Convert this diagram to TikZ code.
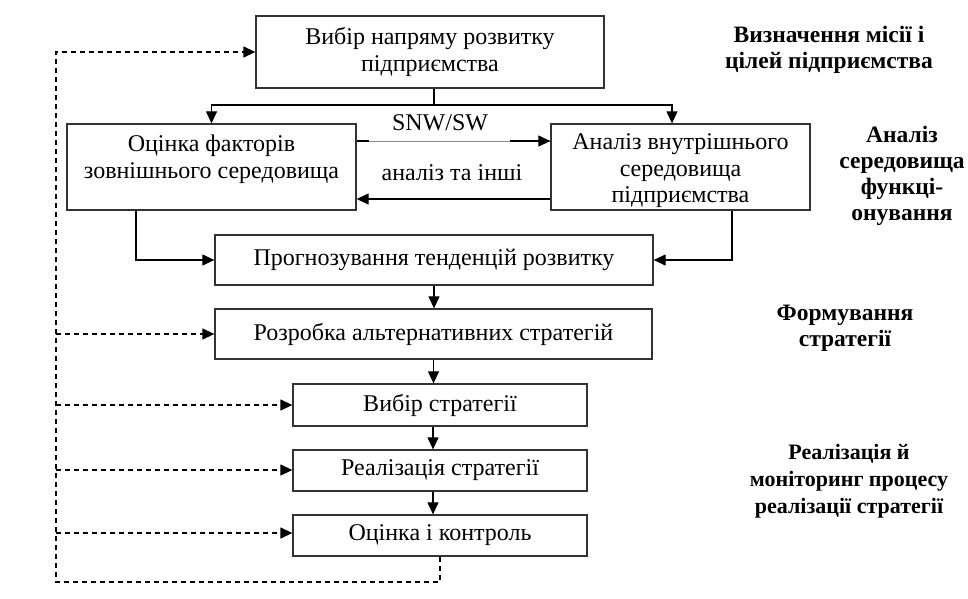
\documentclass[tikz,border=0pt]{standalone}
\usepackage{fontspec}
\setmainfont{Liberation Serif}
\usetikzlibrary{arrows.meta}
\begin{document}
\begin{tikzpicture}[x=1pt,y=-1pt,
  box/.style={draw=black!80,line width=1.3pt,inner sep=0pt,align=center,
    font=\fontsize{24}{26.5}\selectfont},
  txt/.style={inner sep=0pt,align=center,font=\fontsize{24}{26.5}\selectfont},
  side/.style={inner sep=0pt,align=center,font=\fontsize{23.5}{26}\selectfont\bfseries},
  sidesm/.style={inner sep=0pt,align=center,font=\fontsize{22}{27}\selectfont\bfseries},
  arr/.style={line width=1.2pt,-{Triangle[length=12pt,width=11pt]}},
  ln/.style={line width=1.2pt},
  dsh/.style={line width=1.3pt,dash pattern=on 5pt off 4pt},
  darr/.style={dsh,-{Triangle[length=12pt,width=11pt]}}]
\useasboundingbox (0,0) rectangle (968,598);
% boxes
\node[box,minimum width=348pt,minimum height=72pt] (top) at (430,52) {Вибір напряму розвитку\\підприємства};
\node[box,minimum width=289pt,minimum height=86pt] (ext) at (211.5,167) {};
\node[txt] (extT) at (211.5,159) {Оцінка факторів\\зовнішнього середовища};
\node[box,minimum width=259pt,minimum height=86pt] (int) at (680.5,167) {};
\node[txt] (intT) at (680.5,171) {Аналіз внутрішнього\\середовища\\підприємства};
\node[box,minimum width=438pt,minimum height=50pt] (prog) at (434,260) {Прогнозування тенденцій розвитку};
\node[box,minimum width=437pt,minimum height=50pt] (roz) at (433.5,334) {Розробка альтернативних стратегій};
\node[box,minimum width=294pt,minimum height=42pt] (vyb) at (440,405) {Вибір стратегії};
\node[box,minimum width=294pt,minimum height=41pt] (real) at (440,470.5) {Реалізація стратегії};
\node[box,minimum width=294pt,minimum height=41pt] (ocin) at (440,535.5) {Оцінка і контроль};
% middle labels
\node[txt] (snw) at (440,123) {SNW/SW};
\node[txt] (an) at (452,173) {аналіз та інші};
% side labels
\node[side] (s1) at (829,50) {Визначення місії і\\цілей підприємства};
\node[side] (s2) at (902,176) {Аналіз\\середовища\\функці-\\онування};
\node[side] (s3) at (845,328) {Формування\\стратегії};
\node[sidesm] (s4) at (849,481) {Реалізація й\\моніторинг процесу\\реалізації стратегії};
% connectors
\coordinate (j1) at (434,105);
\draw[ln] (top.south -| j1) -- (j1);
\draw[arr] (j1) -| (ext.north);
\draw[arr] (j1) -| ([xshift=-8.5pt]int.north);
\draw[line width=0.8pt,black!45] ([yshift=26pt]ext.east) -- ([yshift=26pt]int.west);
\draw[ln] ([yshift=26pt]ext.east) -- ++(12,0);
\draw[arr] ([yshift=26pt,xshift=-40pt]int.west) -- ([yshift=26pt]int.west);
\draw[arr] ([yshift=-32pt]int.west) -- ([yshift=-32pt]ext.east);
\draw[arr] ([xshift=-75.5pt]ext.south) |- (prog.west);
\draw[arr] ([xshift=51.5pt]int.south) |- (prog.east);
\draw[arr] (prog.south) -- (prog.south |- roz.north);
\draw[arr] (roz.south) -- (roz.south |- vyb.north);
\draw[arr] ([xshift=-7pt]vyb.south) -- ([xshift=-7pt]real.north);
\draw[arr] ([xshift=-7pt]real.south) -- ([xshift=-7pt]ocin.north);
% feedback
\coordinate (fb) at (56,582);
\draw[darr] (ocin.south) -- (ocin.south |- fb) -- (fb) |- (top.west);
\draw[darr] (fb |- roz.west) -- (roz.west);
\draw[darr] (fb |- vyb.west) -- (vyb.west);
\draw[darr] ([yshift=0.5pt]fb |- real.west) -- ([yshift=0.5pt]real.west);
\draw[darr] ([yshift=2.5pt]fb |- ocin.west) -- ([yshift=2.5pt]ocin.west);
\end{tikzpicture}
\end{document}
